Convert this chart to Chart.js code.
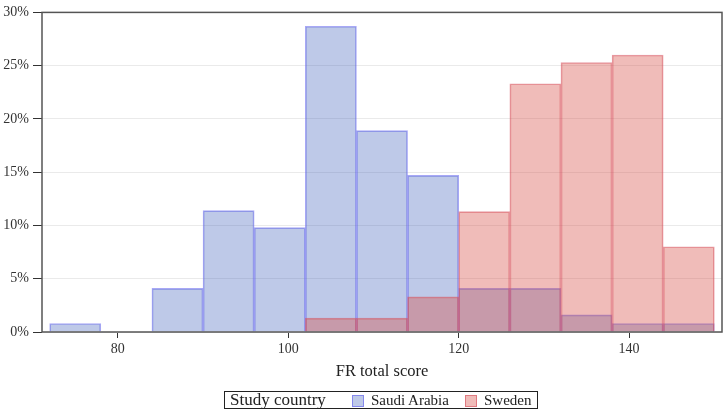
<!DOCTYPE html>
<html>
<head>
<meta charset="utf-8">
<script src="https://cdn.jsdelivr.net/npm/chart.js@4.4.0/dist/chart.umd.min.js"></script>
<style>
  html, body { margin: 0; padding: 0; background: #fff; }
  #wrap { position: relative; width: 724px; height: 411px; }
  #legend {
    position: absolute; left: 224px; top: 391px; width: 312px; height: 16px;
    border: 1.5px solid #222; font-family: "Liberation Serif", serif; color: #222;
    box-sizing: content-box; white-space: nowrap;
  }
  #legend span { position: absolute; top: 0; line-height: 16px; }
  #legend .box { position: absolute; top: 3px; width: 10px; height: 10px; }
</style>
</head>
<body>
<div id="wrap">
  <canvas id="myChart" width="724" height="411"></canvas>
  <div id="legend">
    <span style="left:5px;font-size:17px;">Study country</span>
    <div class="box" style="left:127px;background:rgba(70,100,190,0.35);border:1px solid rgba(110,110,240,0.7);"></div>
    <span style="left:146px;font-size:15px;">Saudi Arabia</span>
    <div class="box" style="left:240px;background:rgba(215,80,70,0.38);border:1px solid rgba(215,80,95,0.6);"></div>
    <span style="left:259px;font-size:15px;">Sweden</span>
  </div>
</div>
<script>
// histogram bins (start of each 6-point bin) and percentages
var binStarts = [72, 78, 84, 90, 96, 102, 108, 114, 120, 126, 132, 138, 144];
var binWidth = 6;
var saudi = [0.8, 0, 4.1, 11.4, 9.8, 28.7, 18.9, 14.7, 4.1, 4.1, 1.6, 0.8, 0.8];
var sweden = [0, 0, 0, 0, 0, 1.3, 1.3, 3.3, 11.3, 23.3, 25.3, 26.0, 8.0];
var xTicks = [80, 100, 120, 140];
var yTicks = [0, 5, 10, 15, 20, 25, 30];

function toPoints(vals) {
  var pts = [];
  for (var i in vals) {
    pts.push({ x: binStarts[i] + binWidth / 2, y: vals[i] });
  }
  return pts;
}

var serif = "'Liberation Serif', 'Times New Roman', serif";

var framePlugin = {
  id: 'frame',
  afterDatasetsDraw: function(chart) {
    var a = chart.chartArea, ctx = chart.ctx;
    ctx.save();
    ctx.strokeStyle = 'rgb(85,85,85)';
    ctx.lineWidth = 1.5;
    ctx.strokeRect(a.left, a.top, a.right - a.left, a.bottom - a.top);
    ctx.restore();
  }
};

var ctx = document.getElementById('myChart').getContext('2d');
var myChart = new Chart(ctx, {
  type: 'bar',
  data: {
    datasets: [
      {
        label: 'Saudi Arabia',
        data: toPoints(saudi),
        backgroundColor: 'rgba(70,100,190,0.35)',
        borderColor: 'rgba(110,110,240,0.6)',
        borderWidth: 1,
        barPercentage: 1,
        categoryPercentage: 1,
        grouped: false,
        order: 2
      },
      {
        label: 'Sweden',
        data: toPoints(sweden),
        backgroundColor: 'rgba(215,80,70,0.38)',
        borderColor: 'rgba(215,80,95,0.55)',
        borderWidth: 1,
        barPercentage: 1,
        categoryPercentage: 1,
        grouped: false,
        order: 1
      }
    ]
  },
  options: {
    responsive: false,
    animation: false,
    layout: { padding: { top: 6, right: 2, left: 0, bottom: 23 } },
    plugins: { legend: { display: false }, tooltip: { enabled: false } },
    scales: {
      x: {
        type: 'linear',
        min: 71.1,
        max: 150.9,
        offset: false,
        afterBuildTicks: function(scale) {
          scale.ticks = xTicks.map(function(v) { return { value: v }; });
        },
        afterFit: function(scale) { scale.height = 56; },
        grid: { offset: false, drawOnChartArea: false, tickLength: 6, tickColor: '#333', color: '#333' },
        border: { display: false },
        ticks: { font: { family: serif, size: 14 }, color: '#333', padding: 3, maxRotation: 0 },
        title: {
          display: true,
          text: 'FR total score',
          font: { family: serif, size: 16.5 },
          color: '#222',
          padding: { top: 4, bottom: 6 }
        }
      },
      y: {
        min: 0,
        max: 30,
        afterBuildTicks: function(scale) {
          scale.ticks = yTicks.map(function(v) { return { value: v }; });
        },
        afterFit: function(scale) { scale.width = 42; },
        grid: { color: 'rgb(234,234,234)', tickLength: 9, tickColor: '#333' },
        border: { display: false },
        ticks: {
          font: { family: serif, size: 14 },
          color: '#333',
          padding: 4,
          callback: function(v) { return v + '%'; }
        }
      }
    }
  },
  plugins: [framePlugin]
});
</script>
</body>
</html>
